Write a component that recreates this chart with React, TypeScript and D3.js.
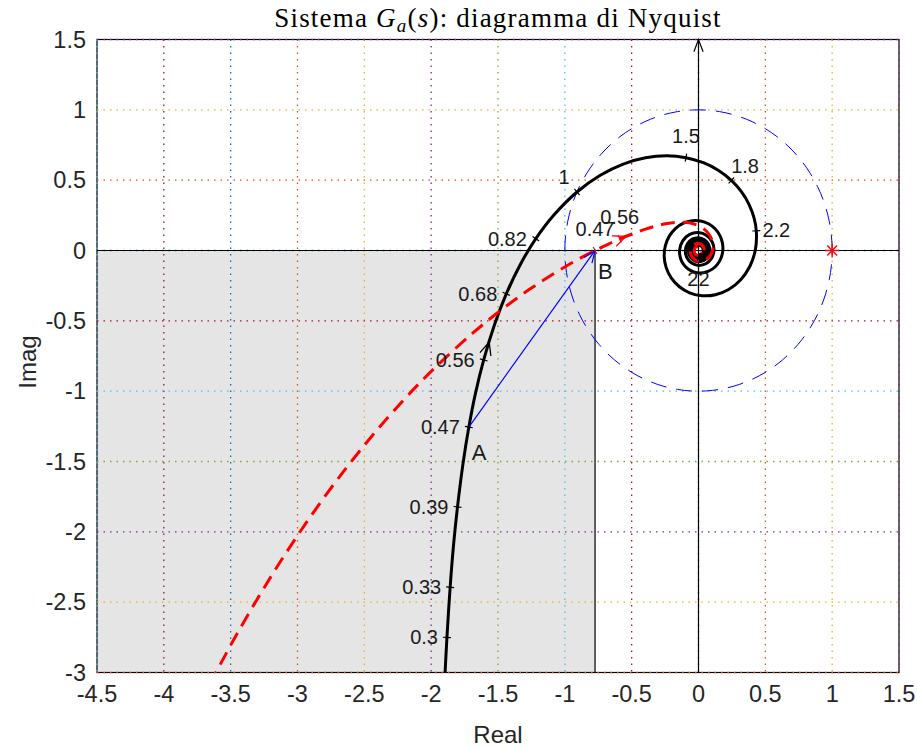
import React from "react";
import * as d3 from "d3";

// ---- axes ----
const xTicks = [-4.5, -4, -3.5, -3, -2.5, -2, -1.5, -1, -0.5, 0, 0.5, 1, 1.5];
const yTicks = [-3, -2.5, -2, -1.5, -1, -0.5, 0, 0.5, 1, 1.5];
const xTickLabels = ["-4.5", "-4", "-3.5", "-3", "-2.5", "-2", "-1.5", "-1", "-0.5", "0", "0.5", "1", "1.5"];
const yTickLabels = ["-3", "-2.5", "-2", "-1.5", "-1", "-0.5", "0", "0.5", "1", "1.5"];

// grid colour cycle (one colour per grid line)
const gridPalette = ["#0072BD", "#D95319", "#EDB120", "#7E2F8E", "#77AC30", "#4DBEEE", "#A2142F"];
const xGridStart = 5;
const yGridStart = 1;

// ---- G_a(jw): black curve (real, imaginary) ----
const gaRe = [
  -1.911, -1.897, -1.882, -1.858, -1.832, -1.803, -1.762, -1.718, -1.671, -1.607,
  -1.525, -1.438, -1.33, -1.217, -1.082, -0.909, -0.735, -0.563, -0.3965, -0.2393,
  -0.0941, 0.0365, 0.1503, 0.2458, 0.322, 0.3784, 0.415, 0.4325, 0.4255, 0.3836,
  0.3141, 0.2255, 0.1268, 0.0268, -0.0662, -0.1453, -0.2054, -0.2429, -0.2567, -0.2473,
  -0.2174, -0.1708, -0.1126, -0.0485, 0.0158, 0.0748, 0.1238, 0.1592, 0.1788, 0.1818,
  0.1686, 0.1414, 0.1035, 0.0587, 0.0106, -0.036, -0.0776, -0.1105, -0.1323, -0.1415,
  -0.1181, -0.0659, 0, 0.0616, 0.1034, 0.1157, 0.0973, 0.0546, 0, -0.0516,
  -0.0871, -0.0979, -0.0827, -0.0466, 0, 0.0444, 0.0752, 0.0849, 0.0719, 0.0406,
  0, -0.039, -0.0662, -0.0749, -0.0636, -0.036, 0, 0.0347, 0.0591, 0.067,
  0.057, 0.0324, 0, -0.0313, -0.0534, -0.0606, -0.0517, -0.0294, 0, 0.0285,
  0.0486, 0.0554, 0.0473, 0.0269, 0, -0.0262, -0.0447, -0.0509, -0.0435, -0.0248,
  0, 0.0242, 0.0413, 0.0472, 0.0403, 0.023, 0, -0.0385, -0.0376, 0,
  0.036, 0.0352, 0, -0.0338, -0.0331, 0, 0.0318, 0.0312, 0,
];
const gaIm = [
  -3.338, -3.026, -2.751, -2.394, -2.088, -1.823, -1.517, -1.255, -1.026, -0.778,
  -0.524, -0.308, -0.094, 0.084, 0.252, 0.416, 0.535, 0.6145, 0.659, 0.673,
  0.66, 0.624, 0.5687, 0.4982, 0.4163, 0.3268, 0.2335, 0.1397, 0.0053, -0.1135,
  -0.2092, -0.277, -0.3144, -0.3215, -0.3005, -0.2557, -0.1928, -0.1185, -0.0398, 0.0364,
  0.104, 0.1578, 0.1945, 0.2119, 0.2099, 0.1899, 0.1546, 0.1079, 0.0544, -0.0008,
  -0.0537, -0.0987, -0.1324, -0.1531, -0.1596, -0.152, -0.1315, -0.1003, -0.0618, 0,
  0.0682, 0.1141, 0.1273, 0.1067, 0.0597, 0, -0.0562, -0.0945, -0.1061, -0.0894,
  -0.0503, 0, 0.0477, 0.0807, 0.0909, 0.0769, 0.0434, 0, -0.0415, -0.0704,
  -0.0796, -0.0675, -0.0382, 0, 0.0367, 0.0624, 0.0707, 0.0601, 0.0341, 0,
  -0.0329, -0.0561, -0.0637, -0.0542, -0.0308, 0, 0.0298, 0.0509, 0.0579, 0.0494,
  0.0281, 0, -0.0273, -0.0466, -0.0531, -0.0453, -0.0258, 0, 0.0251, 0.043,
  0.049, 0.0419, 0.0239, 0, -0.0233, -0.0399, -0.0455, -0.0222, 0.0217, 0.0424,
  0.0208, -0.0203, -0.0398, -0.0195, 0.0191, 0.0374, 0.0184, -0.018, -0.0354,
];
const gaArrowAfter = 9;

// ---- compensated loop: red dashed curve ----
const gcRe = [
  -4.141, -3.628, -3.182, -2.801, -2.477, -2.203, -1.969, -1.681, -1.452, -1.267,
  -1.072, -0.921, -0.774, -0.6607, -0.5894, -0.4964, -0.4019, -0.3105, -0.2377, -0.1768,
  -0.1011, -0.0391, 0.0261, 0.0718, 0.099, 0.1085, 0.1024, 0.0837, 0.0489, 0.0097,
  -0.0254, -0.0499, -0.0602, -0.0558, -0.0395, -0.0161, 0.0085, 0.0287, 0.0403, 0.0417,
  0.0333, 0.018, -0.0004, -0.0172, -0.0287, -0.0327, -0.0185, 0.0099, 0.0263, 0.0183,
];
const gcIm = [
  -4.076, -3.033, -2.293, -1.756, -1.358, -1.059, -0.831, -0.581, -0.405, -0.278,
  -0.158, -0.0733, 0, 0.0516, 0.0827, 0.1174, 0.1498, 0.176, 0.1917, 0.1998,
  0.2004, 0.1899, 0.1628, 0.1234, 0.0784, 0.0325, -0.0093, -0.0431, -0.0697, -0.0771,
  -0.0668, -0.0436, -0.0139, 0.0151, 0.0374, 0.0487, 0.0479, 0.0361, 0.0173, -0.0038,
  -0.0222, -0.0339, -0.0368, -0.0309, -0.0182, -0.0023, 0.0245, 0.027, 0.006, -0.0178,
];
const gcArrowAfter = 14;

// frequency markers (rad/s) on each curve
const gaMarkW = ["0.3", "0.33", "0.39", "0.47", "0.56", "0.68", "0.82", "1", "1.5", "1.8", "2.2", "22"];
const gaMarkRe = [-1.882, -1.858, -1.803, -1.718, -1.607, -1.438, -1.217, -0.909, -0.094, 0.246, 0.4325, -0.0008];
const gaMarkIm = [-2.751, -2.394, -1.823, -1.255, -0.778, -0.308, 0.084, 0.416, 0.66, 0.498, 0.1397, -0.04545];
const gcMarkW = ["0.47", "0.56"];
const gcMarkRe = [-0.774, -0.5894];
const gcMarkIm = [0, 0.0827];

// points A (G_a at w = 0.47) and B (compensated at w = 0.47)
const pointA = [-1.718, -1.255];
const pointB = [-0.774, 0];
const starPoint = [1, 0];
const circleRadius = 1;

const W = 917;
const H = 748;
const PL = 97, PR = 899, PT = 39.5, PB = 672.5;
const SANS = "'Liberation Sans', Arial, Helvetica, sans-serif";
const SERIF = "'Liberation Serif', 'Times New Roman', serif";

function chevron(px: number, py: number, dx: number, dy: number, len: number, ang: number) {
  const a = Math.atan2(dy, dx) + Math.PI;
  const p1 = [px + len * Math.cos(a + ang), py + len * Math.sin(a + ang)];
  const p2 = [px + len * Math.cos(a - ang), py + len * Math.sin(a - ang)];
  return `M${p1[0]},${p1[1]}L${px},${py}L${p2[0]},${p2[1]}`;
}

export default function App() {
  const x = d3.scaleLinear().domain([-4.5, 1.5]).range([PL, PR]);
  const y = d3.scaleLinear().domain([-3, 1.5]).range([PB, PT]);

  const line = d3
    .line<[number, number]>()
    .x((d) => x(d[0]))
    .y((d) => y(d[1]))
    .curve(d3.curveCatmullRom.alpha(0.5));

  const gaPts: [number, number][] = gaRe.map((r, i) => [r, gaIm[i]]);
  const gcPts: [number, number][] = gcRe.map((r, i) => [r, gcIm[i]]);

  const circlePts: [number, number][] = d3.range(0, 361, 3).map((deg) => [
    circleRadius * Math.cos((deg * Math.PI) / 180),
    circleRadius * Math.sin((deg * Math.PI) / 180),
  ]);

  // marker ticks + labels, oriented by the local direction of travel
  function marks(pts: [number, number][], ws: string[], res: number[], ims: number[], color: string) {
    return ws.map((w, i) => {
      const px = x(res[i]);
      const py = y(ims[i]);
      let best = 0;
      let bd = Infinity;
      pts.forEach((p, k) => {
        const d = (p[0] - res[i]) ** 2 + (p[1] - ims[i]) ** 2;
        if (d < bd) {
          bd = d;
          best = k;
        }
      });
      const a = pts[Math.max(0, best - 1)];
      const b = pts[Math.min(pts.length - 1, best + 1)];
      let tx = x(b[0]) - x(a[0]);
      let ty = y(b[1]) - y(a[1]);
      const tl = Math.hypot(tx, ty) || 1;
      tx /= tl;
      ty /= tl;
      const nx = ty;
      const ny = -tx;
      let lx: number, ly: number, anchor: string;
      if (nx < -0.7) {
        lx = px - 9;
        ly = py;
        anchor = "end";
      } else if (Math.abs(ny) > 0.85) {
        lx = px;
        ly = py + Math.sign(ny) * 22;
        anchor = "middle";
      } else {
        lx = px + nx * 20;
        ly = py + ny * 20;
        anchor = "middle";
      }
      return (
        <g key={`${color}-${w}`}>
          <line x1={px - nx * 4} y1={py - ny * 4} x2={px + nx * 4} y2={py + ny * 4} stroke={color} strokeWidth={1.2} />
          <text x={lx} y={ly} textAnchor={anchor} dominantBaseline="central" fontFamily={SANS} fontSize={20} fill="#1a1a1a">
            {w}
          </text>
        </g>
      );
    });
  }

  function arrowOn(pts: [number, number][], k: number, color: string) {
    const a = pts[k];
    const b = pts[k + 1];
    const mx = (x(a[0]) + x(b[0])) / 2;
    const my = (y(a[1]) + y(b[1])) / 2;
    return <path d={chevron(mx, my, x(b[0]) - x(a[0]), y(b[1]) - y(a[1]), 14, 0.42)} fill="none" stroke={color} strokeWidth={1.3} />;
  }

  const ax = x(pointA[0]), ay = y(pointA[1]);
  const bx = x(pointB[0]), by = y(pointB[1]);
  const sx = x(starPoint[0]), sy = y(starPoint[1]);

  return (
    <svg width={W} height={H} style={{ position: "absolute", left: 0, top: 0, background: "#fff" }}>
      <defs>
        <clipPath id="plotClip">
          <rect x={PL} y={PT} width={PR - PL} height={PB - PT} />
        </clipPath>
      </defs>

      {/* shaded region left of B, below the real axis */}
      <rect x={PL} y={y(0)} width={bx - PL} height={PB - y(0)} fill="#e5e5e5" />

      {/* frame */}
      <rect x={PL} y={PT} width={PR - PL} height={PB - PT} fill="none" stroke="#000" strokeWidth={1.2} />

      {/* grid */}
      {xTicks.map((t, i) => (
        <line key={`gx${i}`} x1={x(t)} x2={x(t)} y1={PT} y2={PB} stroke={gridPalette[(xGridStart + i) % 7]} strokeWidth={1.3} strokeDasharray="1.5 5" />
      ))}
      {yTicks.map((t, i) => (
        <line key={`gy${i}`} y1={y(t)} y2={y(t)} x1={PL} x2={PR} stroke={gridPalette[(yGridStart + i) % 7]} strokeWidth={1.3} strokeDasharray="1.5 5" />
      ))}

      {/* axes through the origin */}
      <line x1={PL} x2={PR} y1={y(0)} y2={y(0)} stroke="#000" strokeWidth={1.2} />
      <line x1={x(0)} x2={x(0)} y1={PB} y2={PT} stroke="#000" strokeWidth={1.2} />
      <path d={chevron(x(0), PT, 0, -1, 13, 0.36)} fill="none" stroke="#000" strokeWidth={1.2} />
      <line x1={bx} x2={bx} y1={by} y2={PB} stroke="#000" strokeWidth={1.2} />

      <g clipPath="url(#plotClip)">
        {/* unit circle */}
        <path d={line.curve(d3.curveLinear)(circlePts) ?? ""} fill="none" stroke="#0000ff" strokeWidth={1} strokeDasharray="16 10" />
        {/* G_a(jw) */}
        <path d={line.curve(d3.curveCatmullRom.alpha(0.5))(gaPts) ?? ""} fill="none" stroke="#000" strokeWidth={3} strokeLinejoin="round" />
        {/* compensated loop */}
        <path d={line.curve(d3.curveCatmullRom.alpha(0.5))(gcPts) ?? ""} fill="none" stroke="#ff0000" strokeWidth={3} strokeDasharray="14 8" />
      </g>

      {arrowOn(gaPts, gaArrowAfter, "#000")}
      {arrowOn(gcPts, gcArrowAfter, "#ff0000")}

      {/* A -> B vector */}
      <line x1={ax} y1={ay} x2={bx} y2={by} stroke="#0000ff" strokeWidth={1.2} />
      <path d={chevron(bx, by, bx - ax, by - ay, 13, 0.38)} fill="none" stroke="#0000ff" strokeWidth={1.2} />

      {/* critical point */}
      <g stroke="#ff0000" strokeWidth={1.4}>
        {[0, 45, 90, 135].map((deg) => {
          const r = (deg * Math.PI) / 180;
          return <line key={deg} x1={sx - 7 * Math.cos(r)} y1={sy - 7 * Math.sin(r)} x2={sx + 7 * Math.cos(r)} y2={sy + 7 * Math.sin(r)} />;
        })}
      </g>

      {marks(gaPts, gaMarkW, gaMarkRe, gaMarkIm, "#000")}
      {marks(gcPts, gcMarkW, gcMarkRe, gcMarkIm, "#ff0000")}

      <text x={ax + 3} y={ay + 33} fontFamily={SANS} fontSize={22} fill="#1a1a1a">A</text>
      <text x={bx + 3} y={by + 28} fontFamily={SANS} fontSize={22} fill="#1a1a1a">B</text>

      {/* tick labels */}
      {xTicks.map((t, i) => (
        <text key={`tx${i}`} x={x(t)} y={PB + 21} textAnchor="middle" dominantBaseline="central" fontFamily={SANS} fontSize={23.5} fill="#262626">
          {xTickLabels[i]}
        </text>
      ))}
      {yTicks.map((t, i) => (
        <text key={`ty${i}`} x={PL - 11} y={y(t)} textAnchor="end" dominantBaseline="central" fontFamily={SANS} fontSize={23.5} fill="#262626">
          {yTickLabels[i]}
        </text>
      ))}

      <text x={(PL + PR) / 2} y={734} textAnchor="middle" dominantBaseline="central" fontFamily={SANS} fontSize={24} fill="#262626">
        Real
      </text>
      <text transform={`translate(27,${(PT + PB) / 2 + 6}) rotate(-90)`} textAnchor="middle" dominantBaseline="central" fontFamily={SANS} fontSize={24} fill="#262626">
        Imag
      </text>

      <text x={(PL + PR) / 2} y={27} textAnchor="middle" fontFamily={SERIF} fontSize={27} letterSpacing={1.2} fill="#000">
        <tspan>Sistema </tspan>
        <tspan fontStyle="italic">G</tspan>
        <tspan fontStyle="italic" fontSize={19} dy={5}>a</tspan>
        <tspan dy={-5}>(</tspan>
        <tspan fontStyle="italic">s</tspan>
        <tspan>): diagramma di Nyquist</tspan>
      </text>
    </svg>
  );
}
